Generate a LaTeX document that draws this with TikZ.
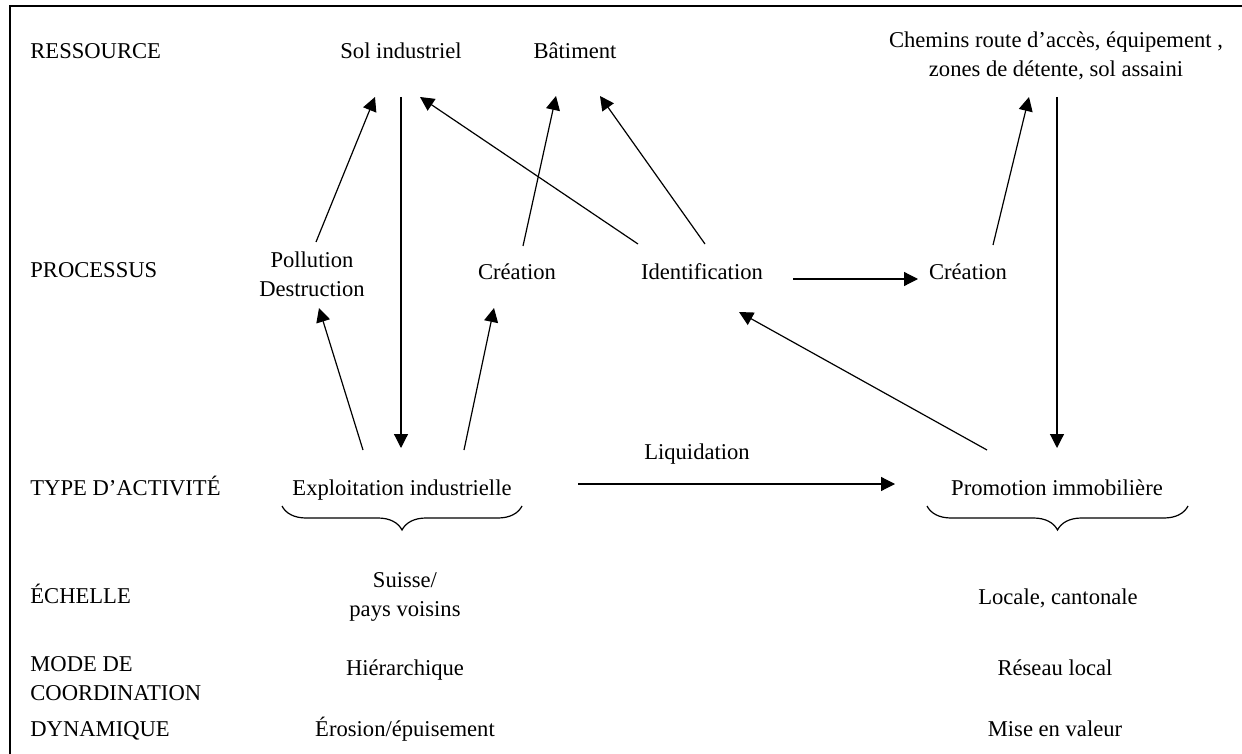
\documentclass[tikz,border=0pt]{standalone}
\usepackage{fontspec}
\setmainfont{Liberation Serif}
\usetikzlibrary{calc,arrows.meta,decorations.pathreplacing}

\begin{document}
\begin{tikzpicture}[
  x=0.5pt, y=-0.5pt,
  font=\fontsize{11.3}{14.5}\selectfont,
  txt/.style={inner sep=0pt, text height=8pt, text depth=2pt},
  multi/.style={inner sep=0pt, align=center},
  rowlabel/.style={txt, anchor=west},
  arr/.style={line width=0.6pt, -{Triangle[length=7pt, width=7pt]}},
  bracket/.style={line width=0.6pt, decorate, decoration={brace, mirror, amplitude=12pt}}
]
\useasboundingbox (0,0) rectangle (1242,754);

% frame
\draw[line width=1pt] (10,754) -- (10,6) -- (1242,6);

% row labels
\node[rowlabel] (lres)  at (30,53)  {RESSOURCE};
\node[rowlabel] (lproc) at (30,272) {PROCESSUS};
\node[rowlabel] (ltype) at (30,489) {TYPE D’ACTIVITÉ};
\node[rowlabel] (lech)  at (30,597) {ÉCHELLE};
\node[multi, anchor=west, align=left] (lmode) at (30,679) {MODE DE\\COORDINATION};
\node[rowlabel] (ldyn)  at (30,730) {DYNAMIQUE};

% resources
\node[txt] (sol)  at (401,53) {Sol industriel};
\node[txt] (bat)  at (575,53) {Bâtiment};
\node[multi] (chem) at (1056,56) {Chemins route d’accès, équipement ,\\zones de détente, sol assaini};

% processes
\node[multi] (poll)  at (312,274) {Pollution\\Destruction};
\node[txt]   (crea1) at (517,273) {Création};
\node[txt]   (ident) at (702,273) {Identification};
\node[txt]   (crea2) at (968,273) {Création};

% activities
\node[txt] (expl)  at (402,489)  {Exploitation industrielle};
\node[txt] (promo) at (1057,489) {Promotion immobilière};
\node[txt] (liq)   at (697,453)  {Liquidation};

% scale, coordination, dynamics
\node[multi] (ech1) at (405,597)  {Suisse/\\pays voisins};
\node[txt]   (ech2) at (1058,598) {Locale, cantonale};
\node[txt]   (mod1) at (405,669)  {Hiérarchique};
\node[txt]   (mod2) at (1055,669) {Réseau local};
\node[txt]   (dyn1) at (405,730)  {Érosion/épuisement};
\node[txt]   (dyn2) at (1055,730) {Mise en valeur};

% braces under the activities
\draw[bracket] ($(expl.center)+(-120,17)$) -- ($(expl.center)+(120,17)$);
\draw[bracket] ($(promo.center)+(-130,17)$) -- ($(promo.center)+(131,17)$);

% connectors
\draw[arr] ($(expl.center)+(-39,-39)$) -- ($(poll.center)+(7,34)$);
\draw[arr] ($(poll.center)+(4,-32)$)   -- ($(sol.center)+(-26,44)$);
\draw[arr] ($(sol.center)+(0,44)$)     -- ($(expl.center)+(-1,-41)$);
\draw[arr] ($(expl.center)+(62,-39)$)  -- ($(crea1.center)+(-23,35)$);
\draw[arr] ($(crea1.center)+(6,-27)$)  -- ($(bat.center)+(-19,43)$);
\draw[arr] ($(ident.center)+(-64,-29)$) -- ($(sol.center)+(19,44)$);
\draw[arr] ($(ident.center)+(3,-29)$)  -- ($(bat.center)+(25,43)$);
\draw[arr] ($(ident.center)+(91,6)$)   -- ($(crea2.center)+(-50,6)$);
\draw[arr] ($(crea2.center)+(25,-28)$) -- ($(chem.center)+(-27,41)$);
\draw[arr] ($(chem.center)+(1,41)$)    -- ($(promo.center)+(0,-41)$);
\draw[arr] ($(promo.center)+(-70,-39)$) -- ($(ident.center)+(37,39)$);
\draw[arr] ($(expl.center)+(176,-5)$)  -- ($(promo.center)+(-162,-5)$);
\end{tikzpicture}
\end{document}
